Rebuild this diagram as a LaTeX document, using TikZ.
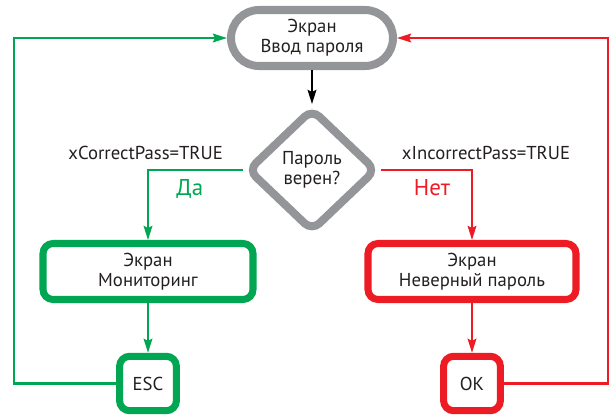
\documentclass[tikz,border=0pt]{standalone}
\usepackage{fontspec}
\setmainfont{PT Sans}
\usepackage{tikz}
\usetikzlibrary{shapes.geometric, arrows.meta}
\definecolor{framegray}{RGB}{147,149,152}
\definecolor{okgreen}{RGB}{0,166,81}
\definecolor{errred}{RGB}{237,28,36}
\definecolor{ink}{RGB}{35,31,32}
\newcommand{\boxfont}{\fontsize{13.3}{14.2}\selectfont}
\tikzstyle{startstop} = [rectangle, rounded corners=0.7cm, minimum width=4.05cm, minimum height=1.4cm, align=center, line width=5.7pt, draw=framegray, text=ink, font=\boxfont]
\tikzstyle{decision} = [diamond, rounded corners=0.25cm, minimum width=3.25cm, minimum height=3.1cm, inner sep=0pt, align=center, line width=5.7pt, draw=framegray, text=ink, font=\boxfont]
\tikzstyle{process} = [rectangle, rounded corners=0.25cm, minimum width=5.25cm, minimum height=1.4cm, align=center, line width=5pt, text=ink, font=\boxfont]
\tikzstyle{item} = [rectangle, rounded corners=0.25cm, minimum width=1.42cm, minimum height=1.36cm, line width=5pt, text=ink, font=\boxfont]
\tikzstyle{condition} = [inner sep=0pt, text=ink, font=\boxfont]
\tikzstyle{answer} = [inner sep=0pt, font=\fontsize{16.3}{18}\selectfont]
\tikzstyle{arrow} = [line width=1.5pt,->,>={Stealth[length=10pt,width=6.2pt,inset=1.5pt]}]

\begin{document}
\begin{tikzpicture}[node distance=2.8cm]
	\useasboundingbox (0,0) rectangle (15.4,-10.45);
	
	% Nodes
	\node (screen) [startstop] at (7.8,-0.95) {Экран\\Ввод пароля};
	\node (check) [decision, below of=screen, yshift=-0.5cm] {Пароль\\верен?};
	\node (monitor) [process, draw=okgreen, below of=check, xshift=-4.1cm, yshift=0.2625cm] {Экран\\Мониторинг};
	\node (wrong) [process, draw=errred, minimum width=5.2cm, below of=check, xshift=4cm, yshift=0.2625cm] {Экран\\Неверный пароль};
	\node (esc) [item, draw=okgreen, below of=monitor] {ESC};
	\node (ok) [item, draw=errred, below of=wrong] {OK};
	
	% Arrows
	\draw [arrow] (screen) -- (check);
	\draw [arrow, okgreen] (check.west) -| node[condition, above=6.4pt, xshift=-0.06cm] {xCorrectPass=TRUE} node[answer, pos=0.28, below=6pt, text=okgreen] {Да} (monitor.north);
	\draw [arrow, okgreen] (monitor) -- (esc);
	\draw [arrow, okgreen] (esc.west) -- ++(-2.55,0) |- (screen.west);
	\draw [arrow, errred] (check.east) -| node[condition, above=6.4pt, xshift=0.35cm] {xIncorrectPass=TRUE} node[answer, pos=0.28, below=6pt, text=errred] {Нет} (wrong.north);
	\draw [arrow, errred] (wrong) -- (ok);
	\draw [arrow, errred] (ok.east) -- ++(2.6,0) |- (screen.east);
	
\end{tikzpicture}
\end{document}
